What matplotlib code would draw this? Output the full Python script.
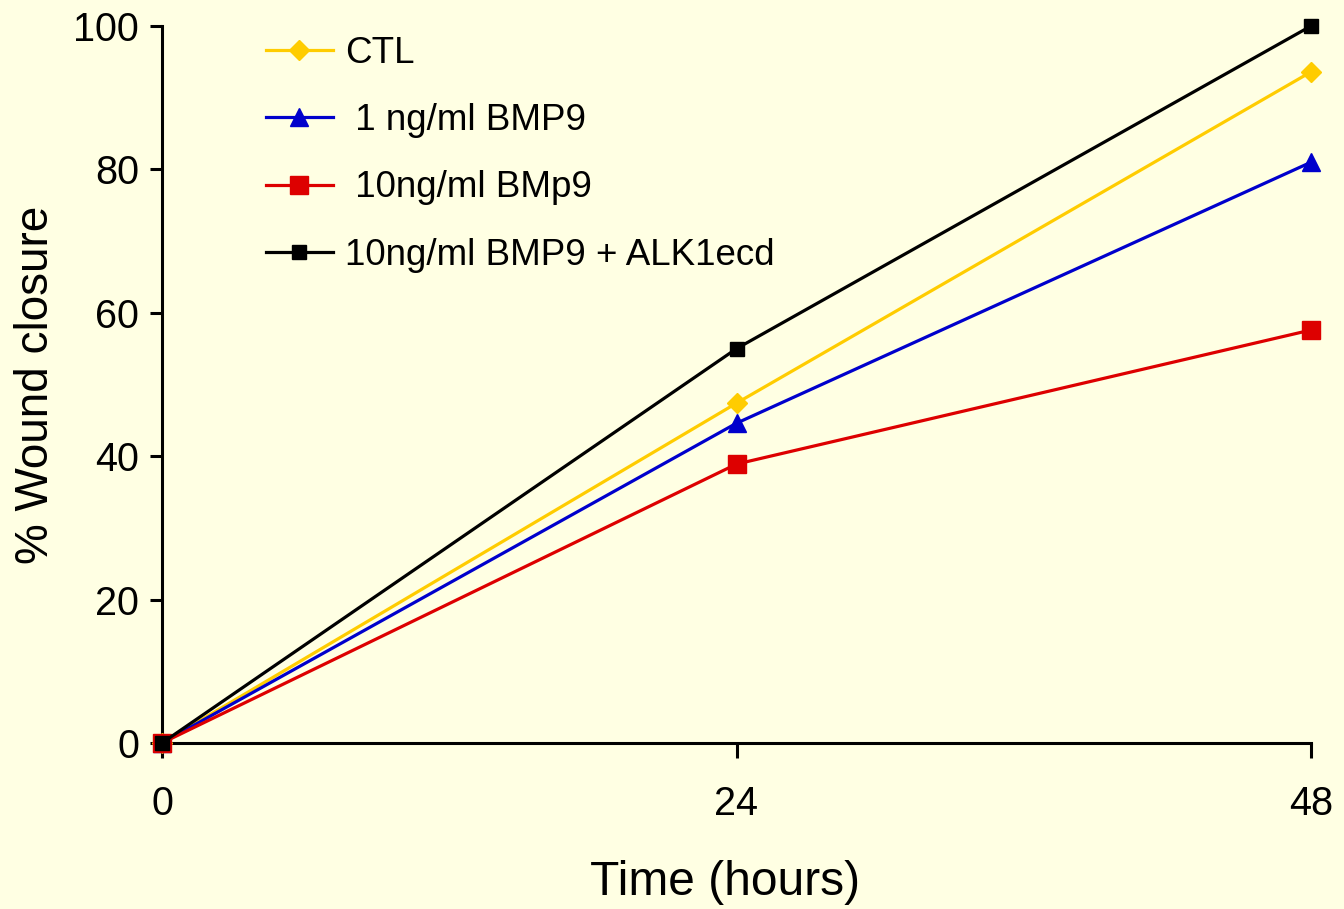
import matplotlib
matplotlib.use("Agg")
import matplotlib.pyplot as plt

plt.rcParams['font.family'] = ['Liberation Sans', 'DejaVu Sans']

time_h = [0, 24, 48]
ctl = [0, 47.4, 93.6]
bmp9_1 = [0, 44.6, 81.0]
bmp9_10 = [0, 38.9, 57.6]
bmp9_alk = [0, 55.0, 100.0]
labels = ["CTL", " 1 ng/ml BMP9", " 10ng/ml BMp9", "10ng/ml BMP9 + ALK1ecd"]
x_ticks = [0, 24, 48]
y_ticks = [0, 20, 40, 60, 80, 100]

bg = '#FFFFE3'
fig = plt.figure(figsize=(13.44, 9.09), dpi=100, facecolor=bg)
ax = fig.add_axes([162/1344, 1-743/909, (1311-162)/1344, (743-26)/909])
ax.set_facecolor(bg)

ax.plot(time_h, ctl, color='#FFCC00', lw=2.3, marker='D', ms=10.5, label=labels[0], clip_on=False, zorder=3)
ax.plot(time_h, bmp9_1, color='#0000CC', lw=2.3, marker='^', ms=13.5, label=labels[1], clip_on=False, zorder=4)
ax.plot(time_h, bmp9_10, color='#DD0000', lw=2.3, marker='s', ms=13, label=labels[2], clip_on=False, zorder=5)
ax.plot(time_h, bmp9_alk, color='black', lw=2.3, marker='s', ms=10.5, label=labels[3], clip_on=False, zorder=6)

ax.set_xlim(0, 48)
ax.set_ylim(0, 100)
ax.set_xticks(x_ticks)
ax.set_yticks(y_ticks)
for s in ['top', 'right']:
    ax.spines[s].set_visible(False)
for s in ['left', 'bottom']:
    ax.spines[s].set_linewidth(2.2)
ax.tick_params(axis='both', labelsize=28.5, width=2.2, direction='out')
ax.tick_params(axis='x', length=11, pad=19)
ax.tick_params(axis='y', length=8.6, pad=8)

ax.set_xlabel("Time (hours)", fontsize=34.5, labelpad=27, x=(725-162)/1149)
ax.set_ylabel("% Wound closure", fontsize=33, labelpad=11)

leg = ax.legend(loc='upper left', bbox_to_anchor=(0.0774, 1.007), frameon=False,
                fontsize=26.5, handlelength=1.82, handletextpad=0.33, labelspacing=0.88,
                borderaxespad=0)

fig.savefig("out.png", dpi=100, facecolor=bg)
